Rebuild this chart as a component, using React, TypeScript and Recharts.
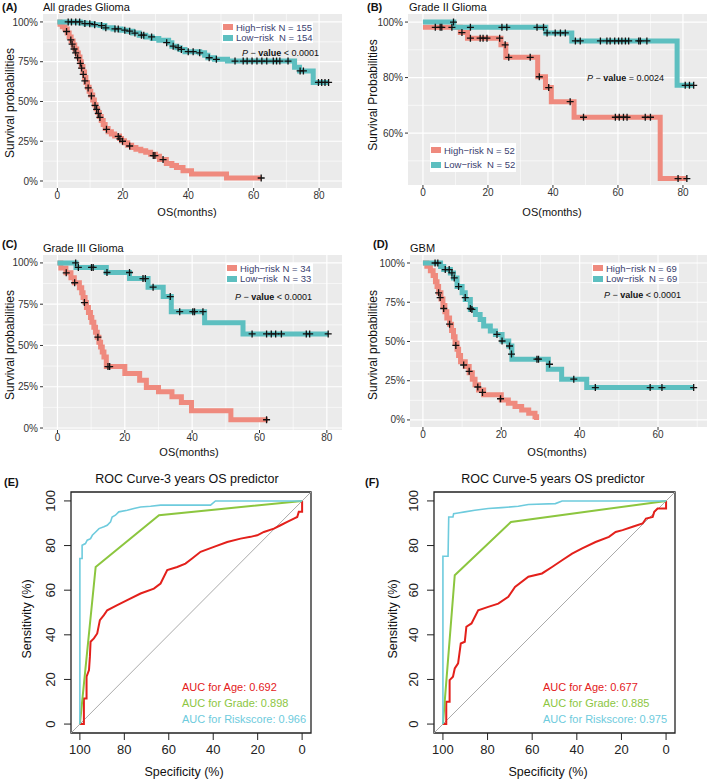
import React from "react";
import { ComposedChart, Line, Scatter, XAxis, YAxis, CartesianGrid, ReferenceArea } from "recharts";

type Pt = [number, number];

const FONT = '"Liberation Sans", Arial, Helvetica, sans-serif';
const HIGH = "#EF8A7E";
const LOW = "#5DBFC0";
const LEG_TXT = "#39406E";

// ---- (A) All grades Glioma : [month, survival %]
const aHigh: Pt[] = [[0,100],[0.8,98.5],[1.5,97],[2.3,95.5],[3,93],[3.6,90.5],[4.2,88],[4.8,85.5],[5.3,83],[5.9,80.5],[6.4,78],[6.9,75],[7.3,72],[7.8,68.5],[8.3,65],[8.7,62],[9.2,59],[9.7,56.5],[10.2,54],[10.8,51],[11.3,48],[11.8,45.5],[12.3,43],[12.8,40.5],[13.4,38],[14,35.5],[14.6,33],[15.5,31],[16.5,29.5],[17.5,28.3],[19,26.8],[19.6,25.3],[20.5,24],[21.5,22.5],[22.7,21],[24,20],[25.5,19],[27,18],[28.5,16.8],[30,15.6],[31.2,13.5],[33.3,11],[35,9.8],[36.4,8.5],[38.4,6.5],[41,4.4],[51.7,1.9],[62.3,1.9]];
const aLow: Pt[] = [[0,100],[7,99.4],[8.5,98.9],[11,98.3],[13,97.7],[14.5,96.3],[17,95.6],[19.5,94.8],[21.5,94.2],[23,93],[25,91.7],[27,90.6],[29,89.6],[31,88.5],[34,87],[35,84.8],[36.5,83.8],[37.5,82.7],[39,81.3],[43.5,80.6],[45,79],[46,77.5],[48,76.5],[52,75.4],[72.5,71.5],[74,69.2],[78.2,62],[83,62]];
const aHighCens: Pt[] = [[2.8,94],[4.1,88.7],[4.5,86],[5.1,83],[5.6,80.5],[6.2,77.5],[7,74],[7.4,71],[7.9,67],[8.4,63],[9.4,58.5],[10.4,53.5],[11.5,47.5],[12,45],[12.5,42.5],[13,40],[15,32.5],[18.6,28],[19.1,26.5],[19.9,25],[22.1,22],[29.3,16],[29.8,16],[32.3,13.5],[62.3,1.9]];
const aLowCens: Pt[] = [[3.3,100],[4.3,100],[5.6,100],[6.8,100],[8.4,99],[9.9,98.9],[11.4,98.3],[13.5,97.7],[14.8,96.3],[17.6,95.6],[18.6,95.6],[20.6,94.8],[22.1,94.2],[23.7,93],[25.7,91.7],[26.4,91.7],[28.8,90.6],[33.4,87],[35.4,84.8],[36.9,83.8],[37.9,82.7],[40,81.3],[41.5,81.3],[43.5,80.6],[46.4,77.5],[48.6,76.5],[54.3,75.4],[56.8,75.4],[58,75.4],[59.5,75.4],[61,75.4],[62.5,75.4],[64,75.4],[66,75.4],[67,75.4],[68,75.4],[70.5,75.4],[74.2,69.2],[75.2,69.2],[79.8,62],[80.8,62],[81.8,62],[82.9,62]];

// ---- (B) Grade II Glioma
const bHigh: Pt[] = [[0,98.1],[11.5,96.2],[13.7,94.2],[24,91.8],[25.5,87.3],[35.3,80.3],[37.7,76.4],[39.5,71.3],[46.5,65.7],[73,43.6],[81.2,43.6]];
const bLow: Pt[] = [[0,100],[9.5,98.1],[37.8,96.1],[45.8,93.2],[78.2,77.2],[83.3,77.2]];
const bHighCens: Pt[] = [[3.8,98.1],[5.3,98.1],[5.8,98.1],[8.9,98.1],[12,96.2],[14.6,94.2],[17.6,94.2],[18.5,94.2],[19.7,94.2],[23.6,94.2],[25.3,91.8],[26.4,87.3],[33,87.3],[35.8,80.3],[38.7,76.4],[45.3,71.3],[49.4,65.7],[59.2,65.7],[60.4,65.7],[61.7,65.7],[62.8,65.7],[68.4,65.7],[70,65.7],[78.5,43.6],[81.2,43.6]];
const bLowCens: Pt[] = [[9.4,100],[14.6,98.1],[24.3,98.1],[25.8,98.1],[35.1,98.1],[37.1,98.1],[38.2,96.1],[40.7,96.1],[42.3,96.1],[43.8,96.1],[46.9,93.2],[48.4,93.2],[54.6,93.2],[56.6,93.2],[57.6,93.2],[59,93.2],[60.2,93.2],[61.2,93.2],[62.3,93.2],[63.3,93.2],[66.4,93.2],[66.9,93.2],[68.9,93.2],[80.7,77.2],[82,77.2],[83.3,77.2]];

// ---- (C) Grade III Glioma
const cHigh: Pt[] = [[0,100],[1,97],[2.5,94],[4,91],[5,88],[6.5,85],[7.2,82],[7.6,79],[8.2,76],[8.6,73],[9.2,70],[9.8,67],[10.2,64],[10.8,61],[11.3,58],[11.8,55],[12.3,52],[12.8,49],[13.3,46],[13.8,43],[14.5,37.2],[20,33],[24.4,29],[26.4,24.5],[30,22],[34,19],[36.8,15.5],[39.8,10.5],[51.5,5],[62.5,5]];
const cLow: Pt[] = [[0,100],[5.5,97.3],[14.5,94.2],[21.4,90.5],[26.9,85.3],[31.4,79.6],[33.8,70.5],[43.7,63.8],[55.1,57],[80.4,57]];
const cHighCens: Pt[] = [[2.6,94],[5.1,88],[8,76],[12,55],[15,37.2],[15.5,37.2],[62.1,5]];
const cLowCens: Pt[] = [[5.4,100],[6.2,97.3],[10.1,97.3],[10.6,97.3],[14.7,94.2],[21.4,94.2],[25.4,90.5],[26.1,90.5],[28.4,85.3],[33.5,79.6],[36.3,70.5],[40.2,70.5],[40.7,70.5],[43.2,70.5],[57.8,57],[62.1,57],[63.5,57],[64.8,57],[66.5,57],[73.9,57],[74.9,57],[80.4,57]];

// ---- (D) GBM
const dHigh: Pt[] = [[0,100],[1,98],[1.9,95],[2.6,92],[3.2,88],[3.6,85],[4,81],[4.6,77],[5.1,73],[5.6,69],[6.1,65],[6.8,61],[7.3,57],[7.8,53],[8.2,49],[8.7,45],[9.1,41],[9.6,37],[10.8,34],[11.8,30],[12.6,26],[13.3,22.5],[14.2,19],[15.5,16],[20,12.7],[21.8,10.6],[23.5,8.5],[25.2,6.4],[27,4.3],[28.6,2.1],[29,0]];
const dLow: Pt[] = [[0,100],[4.5,97.8],[5.3,95.8],[7,93.7],[7.8,90.5],[8.7,85],[10,81],[10.8,76.7],[12.1,70.4],[13.4,67.2],[14.6,64],[15.5,59.8],[17.2,56.7],[18.5,54.5],[20.2,50.3],[21.9,47.1],[22.7,38.7],[32,32.3],[35.4,26],[41.8,20.6],[69.1,20.6]];
const dHighCens: Pt[] = [[4,81],[4.4,78],[5.3,71],[6.8,61],[8.4,47.5],[10.4,35],[11.8,31],[14,21],[15.2,17.5],[19.8,13.5]];
const dLowCens: Pt[] = [[3.1,100],[3.8,100],[5.7,95.8],[6.7,95.8],[7.4,93.7],[8,90.5],[9.1,85],[10.8,78],[12.1,71],[12.5,70.4],[18.9,54.5],[20.2,50.3],[22.1,47.1],[22.6,42],[29.1,38.7],[29.5,38.7],[32.3,35.5],[38.5,26],[44,20.6],[58,20.6],[61,20.6],[69.1,20.6]];

// ---- ROC curves : [specificity %, sensitivity %]
const eAge: Pt[] = [[100,0],[98.2,0],[98.2,11.5],[97,11.5],[97,21.2],[95.9,24.2],[95.5,30.1],[95.2,36.9],[93.7,38.4],[92.2,40.6],[91,46.6],[89.2,48.8],[87.7,51],[83.2,53.3],[78.7,55.5],[72.7,58.5],[66.7,60.7],[63.7,63],[60.7,69],[56.2,70.4],[52.5,71.9],[49.5,74.2],[45.7,77.2],[39.7,79.4],[33.7,81.6],[27.7,83.1],[23.2,83.9],[20.2,84.6],[17.2,86.1],[12.7,87.6],[9.7,89.1],[6.7,90.6],[3.7,92.1],[2.2,92.8],[1.5,95.1],[0,95.1],[0,100]];
const eGrade: Pt[] = [[100,0],[92.9,70.4],[64.4,93.6],[0,100]];
const eRisk: Pt[] = [[100,0],[100,74.2],[99,74.2],[99,80.1],[97.5,80.9],[96.7,82.4],[95.2,83.1],[94.4,84.6],[92.9,86.1],[91.4,87.6],[89.2,88.4],[87.7,89.1],[86.2,90.6],[85.5,92.8],[84,93.6],[82.5,95.1],[78.7,95.8],[75.7,96.6],[72.7,97.3],[68.2,97.6],[63.7,98.1],[41.2,98.1],[39,100],[0,100]];
const fAge: Pt[] = [[100,0],[98.5,0],[98.5,10],[97,10],[97,19.7],[95.5,21.2],[94.7,24.9],[93.2,27.2],[92,36.1],[90.2,36.9],[89.5,43.6],[87.2,45.1],[84.2,51],[79.7,52.5],[75.2,54],[70.7,57],[67.7,61.5],[61.7,66],[55.6,67.5],[51.1,70.4],[46.6,73.4],[42.1,76.4],[37.6,78.7],[31.6,81.6],[25.6,83.9],[22.6,86.1],[19.5,86.9],[15,88.4],[10.5,89.9],[9,92.1],[6,92.8],[5.3,95.1],[3.8,96.6],[0,96.6],[0,100]];
const fGrade: Pt[] = [[100,0],[94.7,66.7],[69.5,90.6],[0,100]];
const fRisk: Pt[] = [[100,0],[100,75.2],[97.7,75.2],[97.4,92.8],[95.5,92.8],[95.2,94.3],[93.2,94.6],[90.2,95.1],[85.7,95.8],[79.7,96.6],[73.7,97],[66.2,97.6],[61.7,98.4],[49.6,98.8],[46.6,100],[0,100]];
const diagonal: Pt[] = [[104,-4],[-4,104]];

const kmXTicks = [0, 20, 40, 60, 80];
const kmXTicksD = [0, 20, 40, 60];
const kmXMinor = [10, 30, 50, 70];
const kmYTicks = [0, 25, 50, 75, 100];
const kmYMinor = [12.5, 37.5, 62.5, 87.5];
const kmYTicksB = [60, 80, 100];
const kmYMinorB = [50, 70, 90];
const rocTicks = [0, 20, 40, 60, 80, 100];

const legA = ["High\u2212risk N = 155", "Low\u2212risk  N = 154"];
const legB = ["High\u2212risk N = 52", "Low\u2212risk  N = 52"];
const legC = ["High\u2212risk N = 34", "Low\u2212risk  N = 33"];
const legD = ["High\u2212risk N = 69", "Low\u2212risk  N = 69"];
const aucE = ["AUC for Age: 0.692", "AUC for Grade: 0.898", "AUC for Riskscore: 0.966"];
const aucF = ["AUC for Age: 0.677", "AUC for Grade: 0.885", "AUC for Riskscore: 0.975"];
const AUC_COLORS = ["#E3201B", "#8CC63F", "#6ECBDD"];

const km = (pts: Pt[]) => pts.map(([t, s]) => ({ t, s }));
const roc = (pts: Pt[]) => pts.map(([spec, sens]) => ({ spec, sens }));

const Plus = (props: any) => {
  const { cx, cy } = props;
  if (cx == null || cy == null) return null;
  return <path d={`M${cx - 3.5},${cy}H${cx + 3.5}M${cx},${cy - 3.5}V${cy + 3.5}`} stroke="#111" strokeWidth={1.3} fill="none" />;
};

type KMProps = {
  x0: number; y0: number; x1: number; y1: number;
  xDomain: [number, number]; yDomain: [number, number];
  xTicks: number[]; yTicks: number[]; xMinor: number[]; yMinor: number[];
  high: Pt[]; low: Pt[]; highCens: Pt[]; lowCens: Pt[];
};

function KMPanel(p: KMProps) {
  const padL = 40, padT = 4, padR = 2, padB = 20;
  const w = p.x1 - p.x0 + padL + padR;
  const h = p.y1 - p.y0 + padT + padB;
  const tickStyle = { fill: "#333", fontSize: 10, fontFamily: FONT };
  return (
    <div style={{ position: "absolute", left: p.x0 - padL, top: p.y0 - padT }}>
      <ComposedChart width={w} height={h} margin={{ top: padT, right: padR, left: 0, bottom: 0 }}>
        <CartesianGrid fill="#EBEBEB" stroke="#FFFFFF" strokeWidth={0.6} horizontalValues={p.yMinor} verticalValues={p.xMinor} />
        <CartesianGrid stroke="#FFFFFF" strokeWidth={1.2} horizontalValues={p.yTicks} verticalValues={p.xTicks} />
        <XAxis type="number" dataKey="t" domain={p.xDomain} allowDataOverflow ticks={p.xTicks} interval={0}
          height={padB} axisLine={false} tickSize={3} tickMargin={1} tickLine={{ stroke: "#333" }} tick={tickStyle} />
        <YAxis type="number" dataKey="s" domain={p.yDomain} allowDataOverflow ticks={p.yTicks} interval={0}
          width={padL} axisLine={false} tickSize={3} tickMargin={2} tickLine={{ stroke: "#333" }} tick={tickStyle}
          tickFormatter={(v: number) => `${v}%`} />
        <Line data={km(p.high)} dataKey="s" type="stepAfter" stroke={HIGH} strokeWidth={5} dot={false} activeDot={false} isAnimationActive={false} />
        <Line data={km(p.low)} dataKey="s" type="stepAfter" stroke={LOW} strokeWidth={5} dot={false} activeDot={false} isAnimationActive={false} />
        <Scatter data={km(p.highCens)} shape={<Plus />} isAnimationActive={false} />
        <Scatter data={km(p.lowCens)} shape={<Plus />} isAnimationActive={false} />
      </ComposedChart>
    </div>
  );
}

const RocYTick = (props: any) => {
  const { x, y, payload } = props;
  const bx = x - 7;
  return (
    <text x={bx} y={y} transform={`rotate(-90 ${bx} ${y})`} textAnchor="middle" fill="#222" fontSize={13} fontFamily={FONT}>
      {payload.value}
    </text>
  );
};

type RocProps = { x0: number; y0: number; x1: number; y1: number; age: Pt[]; grade: Pt[]; risk: Pt[] };

function RocPanel(p: RocProps) {
  const padL = 50, padT = 4, padR = 4, padB = 30;
  const w = p.x1 - p.x0 + padL + padR;
  const h = p.y1 - p.y0 + padT + padB;
  return (
    <div style={{ position: "absolute", left: p.x0 - padL, top: p.y0 - padT }}>
      <ComposedChart width={w} height={h} margin={{ top: padT, right: padR, left: 0, bottom: 0 }}>
        <XAxis type="number" dataKey="spec" domain={[-4, 104]} reversed allowDataOverflow ticks={rocTicks} interval={0}
          height={padB} axisLine={false} tickSize={7} tickMargin={5} tickLine={{ stroke: "#222" }}
          tick={{ fill: "#222", fontSize: 13, fontFamily: FONT }} />
        <YAxis type="number" dataKey="sens" domain={[-4, 104]} allowDataOverflow ticks={rocTicks} interval={0}
          width={padL} axisLine={false} tickSize={7} tickMargin={2} tickLine={{ stroke: "#222" }} tick={<RocYTick />} />
        <ReferenceArea x1={-4} x2={104} y1={-4} y2={104} fill="none" stroke="#222" strokeWidth={1.3} ifOverflow="visible" />
        <Line data={roc(diagonal)} dataKey="sens" type="linear" stroke="#AAAAAA" strokeWidth={1} dot={false} activeDot={false} isAnimationActive={false} />
        <Line data={roc(p.age)} dataKey="sens" type="linear" stroke={AUC_COLORS[0]} strokeWidth={2} dot={false} activeDot={false} isAnimationActive={false} />
        <Line data={roc(p.grade)} dataKey="sens" type="linear" stroke={AUC_COLORS[1]} strokeWidth={2} dot={false} activeDot={false} isAnimationActive={false} />
        <Line data={roc(p.risk)} dataKey="sens" type="linear" stroke={AUC_COLORS[2]} strokeWidth={1.6} dot={false} activeDot={false} isAnimationActive={false} />
      </ComposedChart>
    </div>
  );
}

const abs = (left: number, top: number, extra: React.CSSProperties = {}): React.CSSProperties => ({
  position: "absolute", left, top, fontFamily: FONT, whiteSpace: "pre", lineHeight: 1, color: "#111", ...extra,
});

function Tag({ x, cy, text, bold, size = 11, color = "#111" }: { x: number; cy: number; text: string; bold?: boolean; size?: number; color?: string }) {
  return <div style={abs(x, cy, { transform: "translateY(-50%)", fontSize: size, fontWeight: bold ? 700 : 400, color })}>{text}</div>;
}

function Center({ cx, cy, text, size, color = "#111" }: { cx: number; cy: number; text: string; size: number; color?: string }) {
  return <div style={abs(cx, cy, { transform: "translate(-50%,-50%)", fontSize: size, color })}>{text}</div>;
}

function VTitle({ cx, cy, text, size }: { cx: number; cy: number; text: string; size: number }) {
  return <div style={abs(cx, cy, { transform: "translate(-50%,-50%) rotate(-90deg)", fontSize: size })}>{text}</div>;
}

function KMLegend({ left, top, width, height, labels }: { left: number; top: number; width: number; height: number; labels: string[] }) {
  const colors = [HIGH, LOW];
  const rh = height / 2;
  return (
    <div style={{ position: "absolute", left, top, width, height, background: "#fff" }}>
      {labels.map((lab, i) => (
        <div key={i} style={{ position: "absolute", left: 1, top: i * rh, height: rh, display: "flex", alignItems: "center" }}>
          <span style={{ display: "inline-block", width: 10, height: 6, background: colors[i], marginRight: 3 }} />
          <span style={{ fontSize: 9.5, color: LEG_TXT, whiteSpace: "pre", fontFamily: FONT, lineHeight: 1 }}>{lab}</span>
        </div>
      ))}
    </div>
  );
}

function PValue({ x, cy, op, val }: { x: number; cy: number; op: string; val: string }) {
  return (
    <div style={abs(x, cy, { transform: "translateY(-50%)", fontSize: 9 })}>
      <i>P</i>{" \u2212 "}<b>value</b>{` ${op} ${val}`}
    </div>
  );
}

export default function App() {
  return (
    <div style={{ position: "absolute", left: 0, top: 0, width: 709, height: 783, background: "#fff", overflow: "hidden" }}>
      {/* (A) */}
      <KMPanel x0={43} y0={14} x1={342} y1={188} xDomain={[-4.4, 87]} yDomain={[-4.4, 105]}
        xTicks={kmXTicks} yTicks={kmYTicks} xMinor={kmXMinor} yMinor={kmYMinor}
        high={aHigh} low={aLow} highCens={aHighCens} lowCens={aLowCens} />
      <Tag x={2} cy={7} text="(A)" bold />
      <Tag x={43} cy={7} text="All grades Glioma" />
      <VTitle cx={10} cy={103} text="Survival probabilities" size={12} />
      <Center cx={187} cy={212} text="OS(months)" size={11} />
      <KMLegend left={222} top={22} width={91} height={21} labels={legA} />
      <PValue x={242} cy={53} op="<" val="0.0001" />

      {/* (B) */}
      <KMPanel x0={408} y0={14} x1={707} y1={185} xDomain={[-4.6, 87.4]} yDomain={[41.3, 102.9]}
        xTicks={kmXTicks} yTicks={kmYTicksB} xMinor={kmXMinor} yMinor={kmYMinorB}
        high={bHigh} low={bLow} highCens={bHighCens} lowCens={bLowCens} />
      <Tag x={367} cy={7} text="(B)" bold />
      <Tag x={409} cy={7} text="Grade II Glioma" />
      <VTitle cx={373} cy={95} text="Survival Probabilities" size={12} />
      <Center cx={552} cy={212} text="OS(months)" size={11} />
      <KMLegend left={430} top={143} width={86} height={29} labels={legB} />
      <PValue x={587} cy={78} op="=" val="0.0024" />

      {/* (C) */}
      <KMPanel x0={43} y0={255} x1={342} y1={430} xDomain={[-4.3, 84.5]} yDomain={[-1.2, 104.8]}
        xTicks={kmXTicks} yTicks={kmYTicks} xMinor={kmXMinor} yMinor={kmYMinor}
        high={cHigh} low={cLow} highCens={cHighCens} lowCens={cLowCens} />
      <Tag x={2} cy={244} text="(C)" bold />
      <Tag x={43} cy={248} text="Grade III Glioma" />
      <VTitle cx={10} cy={345} text="Survival probabilities" size={12} />
      <Center cx={189} cy={452} text="OS(months)" size={11} />
      <KMLegend left={226} top={263} width={87} height={21} labels={legC} />
      <PValue x={235} cy={297} op="<" val="0.0001" />

      {/* (D) */}
      <KMPanel x0={410} y0={255} x1={707} y1={427} xDomain={[-3.3, 72.5]} yDomain={[-4.5, 105.1]}
        xTicks={kmXTicksD} yTicks={kmYTicks} xMinor={kmXMinor} yMinor={kmYMinor}
        high={dHigh} low={dLow} highCens={dHighCens} lowCens={dLowCens} />
      <Tag x={373} cy={244} text="(D)" bold />
      <Tag x={410} cy={248} text="GBM" />
      <VTitle cx={373} cy={345} text="Survival probabilities" size={12} />
      <Center cx={557} cy={452} text="OS(months)" size={11} />
      <KMLegend left={592} top={263} width={87} height={21} labels={legD} />
      <PValue x={604} cy={295} op="<" val="0.0001" />

      {/* (E) */}
      <RocPanel x0={71} y0={492} x1={311} y1={733} age={eAge} grade={eGrade} risk={eRisk} />
      <Tag x={4} cy={482} text="(E)" bold />
      <Center cx={187} cy={479} text="ROC Curve-3 years OS predictor" size={12.5} />
      <VTitle cx={27} cy={619} text="Sensitivity (%)" size={12.5} />
      <Center cx={184} cy={772} text="Specificity (%)" size={12.5} />
      {aucE.map((t, i) => <Tag key={t} x={182} cy={687 + i * 16} text={t} size={11} color={AUC_COLORS[i]} />)}

      {/* (F) */}
      <RocPanel x0={434} y0={492} x1={675} y1={733} age={fAge} grade={fGrade} risk={fRisk} />
      <Tag x={365} cy={482} text="(F)" bold />
      <Center cx={553} cy={479} text="ROC Curve-5 years OS predictor" size={12.5} />
      <VTitle cx={393} cy={619} text="Sensitivity (%)" size={12.5} />
      <Center cx={548} cy={772} text="Specificity (%)" size={12.5} />
      {aucF.map((t, i) => <Tag key={t} x={543} cy={687 + i * 16} text={t} size={11} color={AUC_COLORS[i]} />)}
    </div>
  );
}
